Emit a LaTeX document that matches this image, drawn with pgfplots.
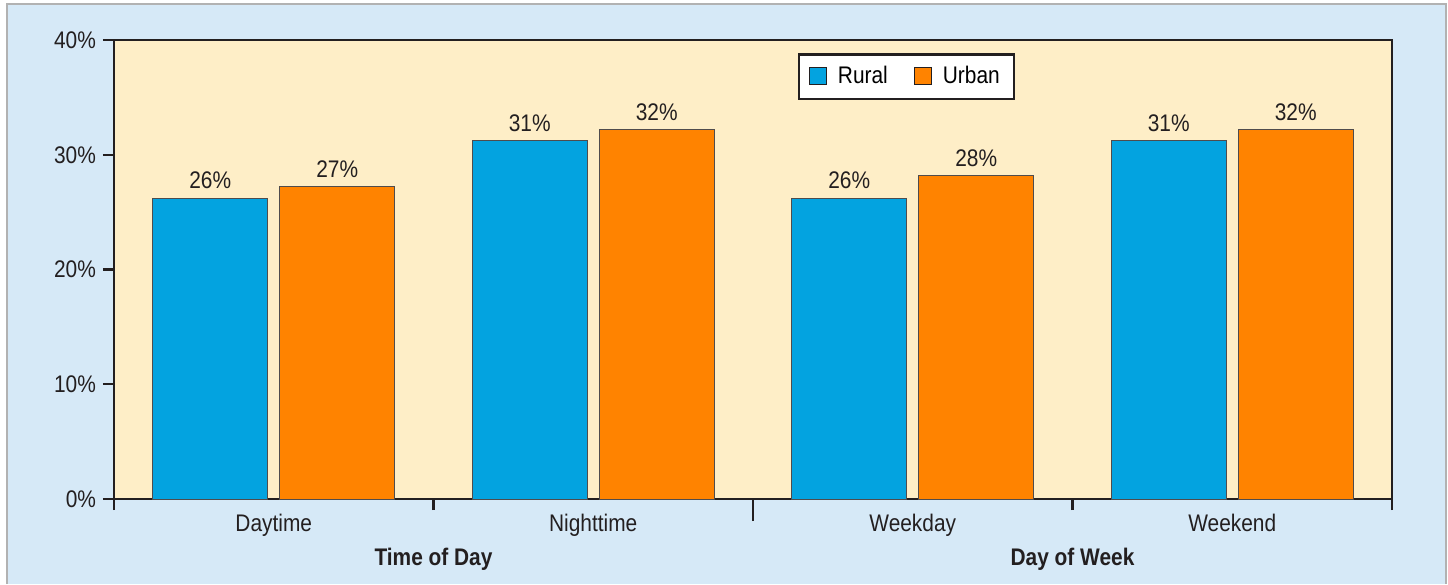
\documentclass[border=0pt]{standalone}
\usepackage{pgfplots}
\pgfplotsset{compat=1.18}
\usepackage{fontspec}
\setmainfont{Liberation Sans}[FakeStretch=0.87]
\definecolor{outerbg}{HTML}{D6E9F7}
\definecolor{plotbg}{HTML}{FEEEC7}
\definecolor{rural}{HTML}{03A3E0}
\definecolor{urban}{HTML}{FF8300}
\definecolor{axisk}{HTML}{231F20}
\begin{document}
\begin{tikzpicture}
\fill[white] (-57pt,-42.5pt) rectangle (667pt,249.5pt);
\fill[outerbg] (-53.5pt,-42.5pt) rectangle (666pt,247.5pt);
\draw[black!30, line width=0.6pt] (-53.5pt,-42.5pt) -- (-53.5pt,247.5pt) -- (666pt,247.5pt) -- (666pt,-42.5pt);
\begin{axis}[
  scale only axis,
  width=639pt, height=229.5pt,
  at={(0,0)}, anchor=south west,
  axis background/.style={fill=plotbg},
  axis line style={axisk, line width=1.2pt},
  ybar=6pt, bar width=57.5pt,
  ymin=0, ymax=40,
  ytick={0,10,20,30,40},
  yticklabel={\pgfmathprintnumber{\tick}\%},
  xmin=0.5, xmax=4.5,
  xtick={1,2,3,4},
  xticklabels={Daytime,Nighttime,Weekday,Weekend},
  major x tick style={draw=none},
  minor xtick={0.5,1.5,3.5,4.5},
  minor tick length=5.5pt,
  extra x ticks={2.5},
  extra x tick labels={},
  extra x tick style={major x tick style={draw=axisk, line width=1.2pt}, major tick length=11pt},
  major tick length=5.5pt,
  tick align=outside,
  xtick pos=bottom, ytick pos=left,
  tick style={axisk, line width=1.2pt},
  x tick label style={yshift=1.5pt},
  ticklabel style={font=\fontsize{12}{14}\selectfont, text=axisk},
  /pgf/number format/assume math mode=true,
  nodes near coords={\pgfmathprintnumber[fixed,precision=0]{\pgfplotspointmeta}\%},
  nodes near coords style={font=\fontsize{12}{14}\selectfont, text=axisk, yshift=1pt},
  legend style={at={(0.62,0.92)}, anchor=center, draw=axisk, line width=1.2pt,
    fill=white, legend columns=2, font=\fontsize{12}{14}\selectfont,
    inner xsep=5pt, inner ysep=4pt,
    /tikz/every even column/.append style={column sep=11pt}},
  legend image code/.code={\draw[#1, draw=axisk, line width=0.6pt] (0cm,-0.14cm) rectangle (0.3cm,0.16cm); \path (0.42cm,0);},
  clip=false,
]
\addplot[fill=rural, draw=axisk!80, line width=0.5pt] coordinates {(1,26.2) (2,31.2) (3,26.2) (4,31.2)};
\addplot[fill=urban, draw=axisk!80, line width=0.5pt] coordinates {(1,27.2) (2,32.2) (3,28.2) (4,32.2)};
\legend{Rural,Urban}
\node[font=\bfseries\fontsize{12}{14}\selectfont, text=axisk, anchor=base] at (axis cs:1.5,0) [yshift=-33pt] {Time of Day};
\node[font=\bfseries\fontsize{12}{14}\selectfont, text=axisk, anchor=base] at (axis cs:3.5,0) [yshift=-33pt] {Day of Week};
\end{axis}
\end{tikzpicture}
\end{document}
